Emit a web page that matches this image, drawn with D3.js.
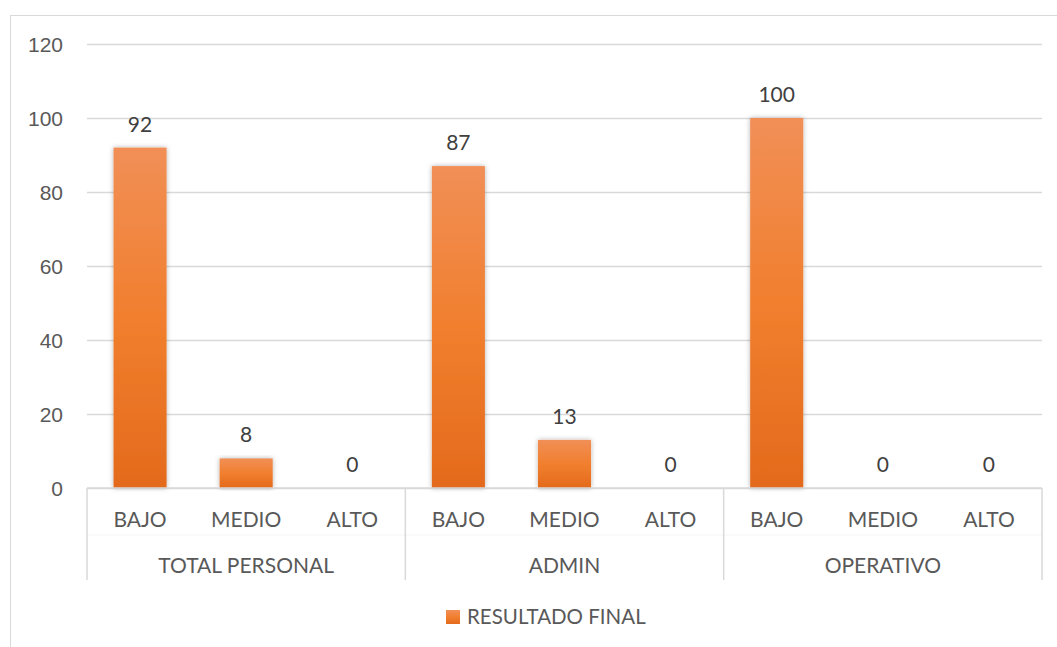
<!DOCTYPE html>
<html><head><meta charset="utf-8">
<script src="https://cdn.jsdelivr.net/npm/d3@7"></script>
<style>body{margin:0;background:#fff;}svg{display:block;font-family:Lato,"Open Sans",sans-serif;}</style>
</head><body>
<script>
const groups = ["TOTAL PERSONAL","ADMIN","OPERATIVO"];
const levels = ["BAJO","MEDIO","ALTO"];
const values = [92,8,0, 87,13,0, 100,0,0];
const yTicks = [0,20,40,60,80,100,120];
const seriesName = "RESULTADO FINAL";

const W=1057,H=647;
const m={left:87,right:1042,top:44,bottom:488};
const svg=d3.select("body").append("svg").attr("width",W).attr("height",H);
const defs=svg.append("defs");
const gr=defs.append("linearGradient").attr("id","bg").attr("x1",0).attr("y1",0).attr("x2",0).attr("y2",1);
gr.append("stop").attr("offset","0%").attr("stop-color","#F18F57");
gr.append("stop").attr("offset","50%").attr("stop-color","#F17F2E");
gr.append("stop").attr("offset","100%").attr("stop-color","#E36A1C");
const f=defs.append("filter").attr("id","sh").attr("x","-30%").attr("y","-10%").attr("width","160%").attr("height","120%");
f.append("feDropShadow").attr("dx",0).attr("dy",0).attr("stdDeviation",2.5).attr("flood-color","#000").attr("flood-opacity",0.3);

// outer border
svg.append("rect").attr("x",10.5).attr("y",15.5).attr("width",W+20).attr("height",H+20)
  .attr("fill","none").attr("stroke","#d9d9d9");

const cats=[];groups.forEach(g=>levels.forEach(l=>cats.push(g+"|"+l)));
const x=d3.scaleBand().domain(cats).range([m.left,m.right]).paddingInner(0.5).paddingOuter(0.25);
const y=d3.scaleLinear().domain([0,120]).range([m.bottom,m.top]);

// grid
const yAxis=d3.axisLeft(y).tickValues(yTicks).tickSize(-(m.right-m.left)).tickPadding(24);
const ga=svg.append("g").attr("transform",`translate(${m.left},0)`).call(yAxis);
ga.select(".domain").remove();
ga.selectAll(".tick line").attr("stroke","#d9d9d9").attr("stroke-width",1.5);
ga.selectAll(".tick text").attr("fill","#595959").attr("font-size",21).attr("dy","0.36em");

// bars
const data=cats.map((c,i)=>({c,v:values[i]}));
svg.append("g").selectAll("rect").data(data.filter(d=>d.v>0)).join("rect")
  .attr("x",d=>x(d.c)).attr("width",x.bandwidth())
  .attr("y",d=>y(d.v)).attr("height",d=>y(0)-y(d.v))
  .attr("fill","url(#bg)").attr("filter","url(#sh)");
svg.append("g").selectAll("text").data(data).join("text")
  .attr("x",d=>x(d.c)+x.bandwidth()/2).attr("y",d=>y(d.v)-16)
  .attr("text-anchor","middle").attr("fill","#404040").attr("font-size",21).text(d=>d.v);

// category axis
svg.append("line").attr("x1",m.left).attr("x2",m.right).attr("y1",m.bottom).attr("y2",m.bottom)
  .attr("stroke","#d9d9d9").attr("stroke-width",1.5);
svg.append("line").attr("x1",m.left).attr("x2",m.right).attr("y1",535).attr("y2",535)
  .attr("stroke","#f5f5f5").attr("stroke-width",1);
const step=(m.right-m.left)/groups.length;
d3.range(groups.length+1).forEach(i=>{
  svg.append("line").attr("x1",m.left+i*step).attr("x2",m.left+i*step).attr("y1",m.bottom).attr("y2",580)
   .attr("stroke","#d9d9d9").attr("stroke-width",1.5);
});
svg.append("g").selectAll("text").data(cats).join("text")
  .attr("x",d=>x(d)+x.bandwidth()/2).attr("y",527).attr("text-anchor","middle")
  .attr("fill","#595959").attr("font-size",21).text(d=>d.split("|")[1]);
svg.append("g").selectAll("text").data(groups).join("text")
  .attr("x",(d,i)=>m.left+(i+0.5)*step).attr("y",572.5).attr("text-anchor","middle")
  .attr("fill","#595959").attr("font-size",21).text(d=>d);

// legend
const lg=svg.append("g");
lg.append("rect").attr("x",446).attr("y",610).attr("width",14).attr("height",14).attr("fill","url(#bg)");
lg.append("text").attr("x",467).attr("y",624).attr("fill","#595959").attr("font-size",20.5).text(seriesName);
</script>
</body></html>
